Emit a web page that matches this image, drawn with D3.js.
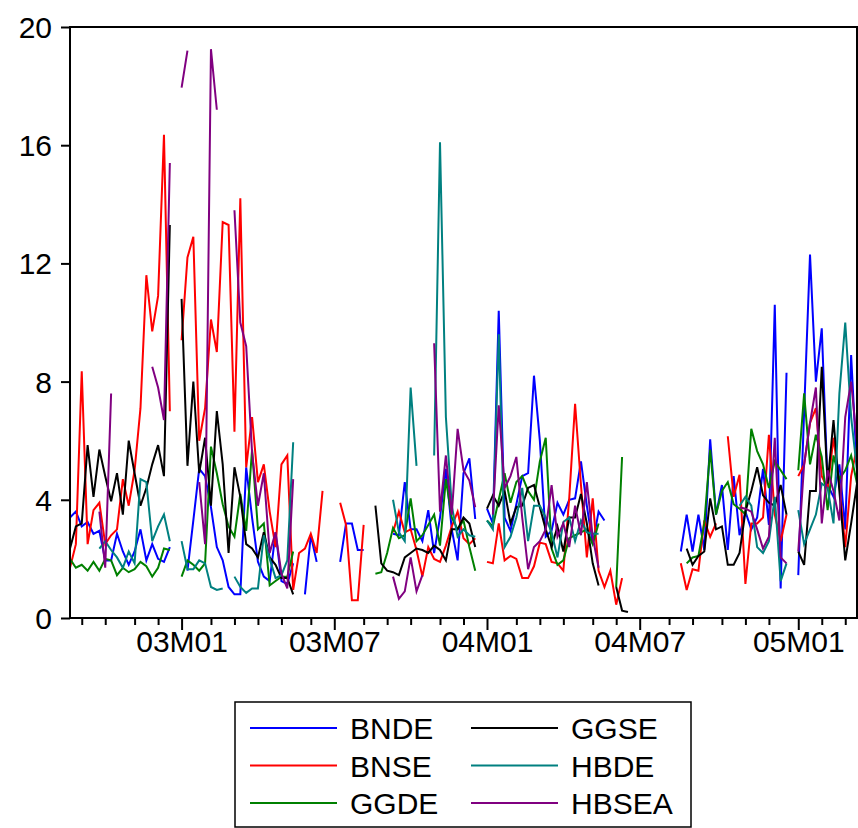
<!DOCTYPE html>
<html>
<head>
<meta charset="utf-8">
<script src="https://cdn.jsdelivr.net/npm/d3@7"></script>
<style>
  body { margin: 0; background: #fff; }
  svg text { font-family: "Liberation Sans", Arial, sans-serif; fill: #000; }
</style>
</head>
<body>
<div id="chart"></div>
<script>
// weekly observations (Thursdays), first one 2002-08-22
var startDate = Date.UTC(2002, 7, 22);

var seriesNames = ["BNDE", "BNSE", "GGDE", "GGSE", "HBDE", "HBSEA"];
var seriesColors = ["#0000ff", "#ff0000", "#008000", "#000000", "#008080", "#800080"];

var bnde = [
  3.4, 3.6, 3.1, 3.25, 2.85, 2.95, 1.95, 1.95, 2.85, 2.25,
  1.8, 2.25, 3.0, 1.95, 2.5, 2.0, 1.9, 2.4, null, null,
  1.6, 3.3, 5.05, 4.8, 3.75, 2.4, 1.95, 1.05, 0.8, 0.8,
  5.1, 3.4, 1.9, 1.4, 1.25, 2.9, 1.25, 1.15, 1.85, null,
  0.8, 2.8, 1.9, null, null, null, 1.9, 3.2, 3.2, 2.3,
  2.3, null, null, null, null, 2.85, 2.8, 4.6, 3.0, 3.0,
  2.6, 3.65, 2.2, 3.4, 5.05, 3.0, 1.95, 4.9, 5.4, 3.35,
  null, 3.7, 3.2, 10.4, 3.4, 2.95, 3.85, 4.8, 4.9, 8.2,
  6.0, 2.75, 2.95, 3.9, 3.5, 4.0, 4.05, 5.3, 3.8, 2.5,
  3.6, 3.3, null, null, null, null, null, null, null, null,
  null, null, null, null, 2.25, 3.5, 2.25, 3.5, 2.3, 6.05,
  3.5, 4.5, 2.3, 4.8, 2.8, 3.6, 3.0, 3.4, 5.05, 3.15,
  10.6, 1.0, 8.3, null, 1.45, 7.0, 12.3, 8.0, 9.8, 4.5,
  4.1, 5.2, 3.0, 8.9, 5.0
];

var bnse = [
  1.7, 2.5, 8.35, 2.5, 3.65, 3.9, 2.5, 2.8, 3.0, 4.7,
  3.8, 5.0, 7.1, 11.6, 9.7, 10.9, 16.35, 7.0, null, 9.4,
  12.2, 12.9, 6.0, 7.1, 10.1, 9.0, 13.4, 13.3, 6.3, 14.2,
  5.1, 6.8, 4.6, 5.2, 3.6, 2.4, 5.2, 5.5, 0.95, 2.2,
  2.35, 2.85, 2.2, 4.3, null, null, 3.9, 3.15, 0.6, 0.6,
  3.15, null, null, null, null, 2.9, 3.6, 2.9, 3.0, 2.3,
  1.4, 2.4, 2.0, 1.9, 2.45, 3.1, 3.6, 2.7, 2.5, 2.7,
  null, 1.9, 1.85, 3.2, 1.95, 2.1, 2.0, 1.35, 1.35, 1.75,
  2.55, 2.5, 1.9, 1.85, 1.6, 4.05, 7.25, 4.5, 2.05, 4.05,
  1.6, 1.05, 1.6, 0.45, 1.35, null, null, null, null, null,
  null, null, null, null, 1.85, 0.95, 1.65, 1.6, 3.3, 2.75,
  3.2, null, 6.15, 4.1, 4.85, 1.15, 3.2, 3.2, 3.4, 6.2,
  3.5, 2.6, 3.5, null, 4.8, 5.2, 6.6, 7.1, 4.8, 4.4,
  6.1, 4.5, 2.4, 4.8, 5.8
];

var ggde = [
  2.0, 1.7, 1.8, 1.6, 1.9, 1.6, 2.0, 1.95, 1.45, 1.7,
  1.55, 1.65, 1.9, 1.75, 1.4, 1.7, 2.35, 2.3, null, 1.4,
  1.95, 1.8, 1.6, 1.85, 5.8, 4.9, 3.85, 3.1, 2.75, 4.2,
  2.95, 5.7, 3.0, 3.2, 1.1, 1.25, 1.4, 1.4, 2.25, null,
  null, null, null, null, null, null, null, null, null, null,
  null, null, 1.5, 1.55, 2.2, 3.05, 2.7, 2.8, 4.05, 2.6,
  2.8, 3.15, 3.5, 2.45, 4.7, 3.4, 3.0, 3.3, 2.4, 1.6,
  null, 3.3, 3.1, 4.0, 4.9, 3.9, 4.6, 4.8, 4.3, 4.0,
  5.3, 6.1, 2.35, 1.8, 1.95, 2.7, 2.8, 2.9, 3.0, 2.5,
  3.2, null, null, 1.05, 5.45, null, null, null, null, null,
  null, null, null, null, null, 1.85, 2.05, 2.1, 3.2, 5.7,
  3.5, 4.3, 4.6, 3.85, 3.7, 3.5, 6.4, 5.65, 5.2, 4.4,
  5.3, 5.0, 4.7, null, 5.0, 7.6, 5.2, 6.2, 5.45, 3.65,
  5.5, 4.7, 5.0, 5.5, 4.55
];

var ggse = [
  2.35, 3.1, 3.2, 5.85, 4.1, 5.7, 4.8, 3.95, 4.9, 3.5,
  6.0, 4.9, 3.8, 4.4, 5.2, 5.85, 4.8, 13.3, null, 10.8,
  5.15, 8.0, 4.9, 6.1, 3.8, 7.0, 5.2, 2.2, 5.1, 4.1,
  2.5, 2.35, 2.05, 2.9, 2.05, 1.8, 1.35, 1.35, 0.8, null,
  null, null, null, null, null, null, null, null, null, null,
  null, null, 3.8, 1.85, 1.6, 1.55, 1.45, 2.05, 2.2, 2.35,
  2.3, 2.2, 2.45, 2.3, 1.95, 3.0, 3.0, 3.4, 3.2, 2.4,
  null, 3.7, 4.15, 3.8, 4.3, 3.2, 3.75, 3.8, 4.4, 4.5,
  3.75, 3.0, 2.4, 3.1, 2.25, 3.4, 3.4, 4.2, 3.2, 1.85,
  1.1, null, null, 1.05, 0.25, 0.2, null, null, null, null,
  null, null, null, null, null, 2.35, 1.8, 2.1, 2.25, 4.05,
  3.0, 3.1, 1.8, 1.8, 2.2, 3.6, 4.3, 5.1, 4.15, 3.9,
  3.8, 4.5, 3.5, null, 2.25, 1.8, 4.3, 4.3, 8.5, 4.55,
  6.7, 4.3, 1.95, 3.2, 4.55
];

var hbde = [
  null, null, null, null, null, 2.35, 2.6, 2.3, 2.05, 1.7,
  2.25, 1.85, 4.7, 4.6, 2.6, 3.1, 3.5, 2.6, null, 2.6,
  1.65, 1.65, 1.95, 1.85, 1.05, 0.95, 1.0, null, 1.4, 1.05,
  0.85, 1.0, 1.0, 2.8, 2.0, 1.35, 1.45, 1.95, 5.95, null,
  null, null, null, null, null, null, null, null, null, null,
  null, null, null, null, null, 4.0, 2.9, 2.6, 7.8, 5.15,
  null, null, 5.5, 16.1, 6.8, 3.8, 2.75, 3.0, 2.8, 2.75,
  null, 3.3, 3.0, 9.6, 2.4, 2.75, 3.4, 4.4, 2.6, 3.8,
  3.8, 3.4, 2.9, 2.05, 3.25, 3.4, 2.6, 3.3, 2.9, 2.85,
  2.85, null, null, null, null, null, null, null, null, null,
  null, null, null, null, null, null, null, null, null, null,
  null, null, null, null, 3.8, 4.1, 3.8, 2.4, 2.2, 2.6,
  4.1, 1.25, 1.85, null, 3.65, 2.5, 3.0, 3.5, 4.55, 4.4,
  3.2, 7.6, 10.0, 6.8, 5.0
];

var hbsea = [
  null, null, null, null, null, 3.6, 1.7, 7.6, null, null,
  null, null, null, null, 8.5, 7.8, 6.7, 15.4, null, 17.95,
  19.2, null, 4.6, 2.5, 19.25, 17.2, null, null, 13.8, 10.0,
  9.2, 5.6, 3.8, 4.9, 2.2, 2.9, 1.5, 1.0, 4.7, null,
  null, null, null, null, null, null, null, null, null, null,
  null, null, null, null, null, 1.4, 0.65, 0.9, 2.05, 0.9,
  1.45, null, 9.3, 3.6, 5.5, 3.5, 6.4, 5.0, 4.65, 3.75,
  null, null, 3.5, 7.2, 4.4, 4.8, 5.45, 3.4, 1.65, 2.4,
  2.6, 3.0, 4.5, 2.75, 3.2, 2.4, 3.8, 2.8, 4.6, 2.75,
  1.7, null, null, null, null, null, null, null, null, null,
  null, null, null, null, null, null, null, null, null, null,
  null, null, null, null, 3.75, 3.7, 3.6, 3.0, 2.35, 2.75,
  6.1, 2.05, 1.85, null, 2.25, 5.2, 6.6, 7.8, 3.2, 5.0,
  4.3, 3.3, 6.8, 8.0, 5.9
];

var yTicks = [0, 4, 8, 12, 16, 20];
var xTickLabels = ["03M01", "03M07", "04M01", "04M07", "05M01"];

var allSeries = [bnde, bnse, ggde, ggse, hbde, hbsea];

var svgWidth = 858;
var svgHeight = 828;
var plot = { left: 70, right: 857, top: 27, bottom: 618 };

var svg = d3.select("#chart")
  .append("svg")
  .attr("width", svgWidth)
  .attr("height", svgHeight);

var n = bnde.length;
var dates = d3.range(n).map(function(i) {
  return new Date(startDate + i * 7 * 864e5);
});

var xScale = d3.scaleUtc()
  .domain([dates[0], dates[n - 1]])
  .range([plot.left, plot.right]);

var yScale = d3.scaleLinear()
  .domain([0, 20])
  .range([plot.bottom, plot.top]);

// first observation of each month gets a tick
var monthTicks = dates.filter(function(d, i) {
  return i > 0 && d.getUTCMonth() !== dates[i - 1].getUTCMonth();
});
function labelOf(d) {
  return d3.utcFormat("%y")(d) + "M" + d3.utcFormat("%m")(d);
}

var xAxis = d3.axisBottom(xScale)
  .tickValues(monthTicks)
  .tickSize(0)
  .tickFormat("");

var xg = svg.append("g")
  .attr("transform", "translate(0," + plot.bottom + ")")
  .call(xAxis);
xg.select(".domain").remove();
xg.selectAll(".tick line")
  .attr("y2", function(d) { return xTickLabels.indexOf(labelOf(d)) >= 0 ? 12 : 7; })
  .attr("stroke", "#000")
  .attr("stroke-width", 2);
xg.selectAll(".tick text")
  .text(function(d) { return xTickLabels.indexOf(labelOf(d)) >= 0 ? labelOf(d) : ""; })
  .attr("y", 34)
  .attr("dy", 0)
  .attr("font-size", "30px")
  .attr("font-family", "Liberation Sans, Arial, sans-serif");

var yAxis = d3.axisLeft(yScale)
  .tickValues(yTicks)
  .tickSize(9)
  .tickPadding(9)
  .tickFormat(d3.format("d"));

var yg = svg.append("g")
  .attr("transform", "translate(" + plot.left + ",0)")
  .call(yAxis);
yg.select(".domain").remove();
yg.selectAll(".tick line").attr("stroke", "#000").attr("stroke-width", 2);
yg.selectAll(".tick text")
  .attr("font-size", "30px")
  .attr("font-family", "Liberation Sans, Arial, sans-serif")
  .attr("dy", "0.35em");

// series lines
var line = d3.line()
  .defined(function(d) { return d != null; })
  .x(function(d, i) { return xScale(dates[i]); })
  .y(function(d) { return yScale(d); });

svg.append("g")
  .selectAll("path")
  .data(allSeries)
  .enter()
  .append("path")
  .attr("d", line)
  .attr("fill", "none")
  .attr("stroke", function(d, i) { return seriesColors[i]; })
  .attr("stroke-width", 2);

// plot frame
svg.append("rect")
  .attr("x", plot.left)
  .attr("y", plot.top)
  .attr("width", plot.right - plot.left)
  .attr("height", plot.bottom - plot.top)
  .attr("fill", "none")
  .attr("stroke", "#000")
  .attr("stroke-width", 2);

// legend
var legend = svg.append("g").attr("transform", "translate(235,702)");
legend.append("rect")
  .attr("width", 456)
  .attr("height", 125)
  .attr("fill", "none")
  .attr("stroke", "#000")
  .attr("stroke-width", 1.5);

var items = legend.selectAll("g.item")
  .data(seriesNames)
  .enter()
  .append("g")
  .attr("class", "item")
  .attr("transform", function(d, i) {
    var col = Math.floor(i / 3), row = i % 3;
    return "translate(" + (15 + col * 221) + "," + (26 + row * 37.5) + ")";
  });

items.append("line")
  .attr("x1", 0)
  .attr("x2", 87)
  .attr("stroke", function(d, i) { return seriesColors[i]; })
  .attr("stroke-width", 2);

items.append("text")
  .attr("x", 100)
  .attr("y", 11)
  .attr("font-size", "30px")
  .text(function(d) { return d; });
</script>
</body>
</html>
